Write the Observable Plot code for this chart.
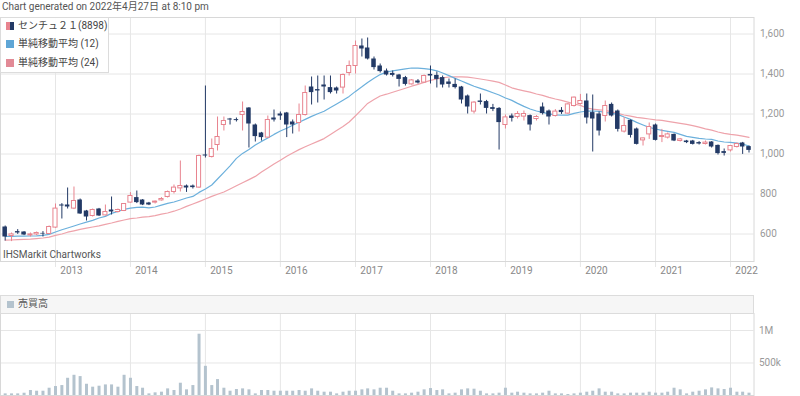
<!DOCTYPE html>
<html><head><meta charset="utf-8">
<script src="https://cdn.jsdelivr.net/npm/d3@7"></script>
<script src="https://cdn.jsdelivr.net/npm/@observablehq/plot@0.6"></script>
<style>
body{margin:0;background:#fff;font-family:Roboto,"Noto Sans CJK JP",sans-serif;}
#wrap{position:relative;width:800px;height:396px;overflow:hidden;background:#fff;}
#wrap svg{position:absolute;left:0;}
.t{position:absolute;font-size:10px;line-height:12px;white-space:nowrap;}
#title{left:2px;top:1px;color:#555;}
#legend{position:absolute;left:0;top:17px;width:109px;height:56px;background:rgba(255,255,255,0.95);border:1px solid #dcdcdc;box-sizing:border-box;z-index:2;}
.row{position:absolute;left:0;height:12px;font-size:10px;line-height:12px;color:#444;white-space:nowrap;}
.sw{position:absolute;left:5px;top:2px;width:8px;height:8px;}
.row span.lab{position:absolute;left:17px;top:0;}
#credit{left:3px;top:249px;color:#555;}
#volhead{position:absolute;left:0;top:295px;width:754px;height:19px;background:#f6f6f6;border:1px solid #dcdcdc;box-sizing:border-box;}
</style></head>
<body><div id="wrap">
<div id="title" class="t">Chart generated on 2022年4月27日 at 8:10 pm</div>
<div id="legend">
  <div class="row" style="top:2px"><span class="sw" style="width:4px;background:#e8848f"></span><span class="sw" style="left:9px;width:4px;background:#233a66"></span><span class="lab">センチュ２１(8898)</span></div>
  <div class="row" style="top:20px"><span class="sw" style="background:#5fa6d6"></span><span class="lab">単純移動平均 (12)</span></div>
  <div class="row" style="top:39px"><span class="sw" style="background:#e28a96"></span><span class="lab">単純移動平均 (24)</span></div>
</div>
<div id="credit" class="t">IHSMarkit Chartworks</div>
<div id="volhead"><span class="sw" style="top:5px;left:6px;width:7px;height:7px;background:#b4c3ce"></span><span class="t" style="left:17px;top:2px;color:#555">売買高</span></div>
</div>
<script>
// Monthly candles, May 2012 .. Apr 2022
const startMonth = "2012-05-01";
const open = [635,590,612,610,593,598,603,600,632,745, 745,727,770,715,690,725,693,720,710,715,
  757,782,770,755,757,768,785,810,828,840, 840,832,995,985,1045,1145,1175,1172,1195,1230,
  1145,1105,1082,1180,1200,1205,1160,1155,1195,1335, 1322,1345,1332,1330,1332,1405,1440,1540,1530,1475,
  1440,1415,1403,1395,1382,1348,1365,1357,1398,1393, 1382,1360,1348,1335,1290,1212,1265,1262,1232,1228,
  1145,1190,1185,1187,1192,1175,1235,1215,1190,1218, 1202,1240,1250,1265,1207,1200,1190,1248,1215,1112,
  1168,1125,1068,1098,1145,1085,1082,1098,1065,1065, 1065,1057,1050,1060,1043,1012,1018,1035,1055,1037];
const high = [640,605,622,612,605,610,612,640,750,752, 830,835,775,718,725,728,745,785,725,752,
  807,815,772,758,765,782,815,845,965,845, 845,995,1340,1075,1185,1185,1178,1180,1260,1232,
  1150,1108,1190,1220,1210,1208,1170,1250,1340,1385, 1390,1390,1390,1335,1400,1465,1565,1575,1580,1485,
  1450,1425,1415,1398,1388,1372,1372,1395,1440,1410, 1390,1375,1375,1338,1295,1262,1300,1268,1248,1232,
  1195,1200,1212,1215,1195,1192,1255,1220,1222,1232, 1252,1285,1298,1300,1295,1210,1265,1255,1220,1182,
  1170,1130,1080,1155,1150,1123,1105,1100,1078,1068, 1068,1062,1065,1062,1045,1025,1042,1055,1058,1040];
const low = [565,562,598,592,585,592,585,598,628,675, 725,722,698,665,685,688,690,695,705,712,
  755,752,742,742,750,765,780,800,810,808, 825,828,980,980,1015,1115,1145,1160,1115,1030,
  1060,1065,1078,1160,1168,1082,1100,1110,1190,1245, 1255,1270,1300,1300,1300,1390,1400,1485,1470,1420,
  1405,1390,1385,1335,1340,1345,1350,1355,1350,1330, 1330,1330,1325,1250,1200,1200,1245,1200,1212,1020,
  1125,1160,1175,1165,1115,1165,1195,1145,1185,1198, 1198,1235,1245,1150,1010,1090,1160,1185,1110,1105,
  1080,1045,1040,1073,1065,1057,1075,1062,1060,1052, 1045,1045,1045,1030,995,990,1010,1030,998,1005];
const close = [585,598,605,595,598,605,600,635,727,740, 735,765,700,685,720,690,710,710,720,750,
  790,757,745,745,762,775,810,832,840,830, 832,990,990,1025,1085,1165,1170,1167,1210,1150,
  1087,1082,1170,1170,1190,1145,1145,1195,1305,1307, 1315,1335,1307,1315,1395,1440,1540,1525,1475,1432,
  1412,1395,1393,1373,1348,1368,1355,1390,1390,1373, 1345,1348,1332,1270,1235,1257,1258,1228,1223,1157,
  1183,1178,1200,1200,1145,1185,1202,1185,1212,1207, 1248,1282,1265,1180,1175,1115,1240,1190,1123,1140,
  1093,1048,1078,1135,1068,1090,1098,1065,1073,1057, 1048,1050,1057,1035,1002,1003,1040,1050,1035,1018];
const sma12 = [588,588,589,589,590,591,593,598,610,621, 630,640,650,659,668,680,688,703,713,723,
  729,733,734,731,735,744,753,760,770,780, 788,808,825,845,875,908,941,978,1003,1023,
  1045,1063,1080,1098,1115,1129,1144,1159,1173,1188, 1201,1214,1232,1250,1269,1288,1313,1336,1358,1379,
  1397,1410,1416,1421,1426,1430,1429,1427,1423,1416, 1405,1392,1378,1365,1352,1339,1328,1318,1306,1295,
  1280,1268,1253,1238,1225,1215,1208,1201,1196,1194, 1194,1203,1210,1214,1215,1213,1208,1203,1198,1185,
  1173,1158,1145,1133,1125,1118,1113,1108,1098,1088, 1083,1078,1075,1073,1065,1060,1058,1054,1049,1040];
const sma24 = [569,570,572,573,574,577,580,584,593,600, 609,616,623,629,635,641,648,655,663,670,
  677,680,684,687,692,699,705,714,725,738, 750,762,775,788,799,810,825,841,856,872,
  888,910,930,950,969,989,1005,1022,1036,1050, 1063,1077,1097,1117,1137,1160,1191,1223,1253,1272,
  1290,1299,1309,1319,1329,1339,1348,1358,1368,1375, 1381,1385,1386,1386,1384,1380,1375,1370,1364,1358,
  1345,1331,1323,1316,1309,1300,1293,1283,1275,1268, 1259,1250,1243,1230,1224,1221,1218,1211,1203,1195,
  1189,1183,1179,1175,1171,1168,1163,1158,1153,1148, 1142,1134,1126,1119,1110,1103,1098,1094,1089,1083];
const volume = [25000,25000,25000,35000,77000,66000,66000,112000,138000,153000,
  265000,311000,291000,173000,128000,143000,163000,163000,128000,311000,
  265000,138000,112000,25000,41000,51000,102000,77000,189000,87000,
  153000,943000,449000,153000,245000,112000,66000,92000,102000,87000,
  25000,77000,77000,66000,66000,66000,66000,77000,66000,102000,
  66000,51000,51000,25000,51000,66000,66000,87000,102000,87000,
  112000,112000,66000,25000,25000,36000,51000,87000,107000,77000,
  87000,25000,36000,87000,102000,97000,66000,25000,25000,36000,
  112000,36000,51000,36000,25000,25000,36000,66000,25000,25000,
  15000,25000,36000,51000,66000,102000,51000,51000,25000,25000,
  36000,36000,36000,51000,36000,36000,51000,112000,87000,25000,
  51000,66000,87000,117000,102000,92000,112000,51000,51000,36000];
const priceTicks = [600, 800, 1000, 1200, 1400, 1600];
const volumeTicks = [500000, 1000000];
const yearTicks = ["2013","2014","2015","2016","2017","2018","2019","2020","2021","2022"].map(y => new Date(y + "-01-01"));

const NAVY = "#233a66", PINK = "#e8848f", BLUE_MA = "#6cb0dc", PINK_MA = "#eea3ab";
const GRID = "#e6e6e6", FRAME = "#d8d8d8", VOL = "#b4c3ce";

const months = d3.utcMonth.range(new Date(startMonth), d3.utcMonth.offset(new Date(startMonth), open.length));
const rows = months.map((date, i) => ({date, open: open[i], high: high[i], low: low[i], close: close[i],
  volume: volume[i], sma12: sma12[i], sma24: sma24[i]}));
const ups = rows.filter(d => d.close >= d.open);
const downs = rows.filter(d => d.close < d.open);
const xDomain = [new Date("2012-04-08T05:00Z"), new Date("2022-04-25T07:00Z")];
const style = {fontFamily: "Roboto, 'Noto Sans CJK JP', sans-serif", fontSize: "10px", background: "transparent", overflow: "visible"};

const price = Plot.plot({
  width: 800, height: 264, marginTop: 1, marginBottom: 19, marginLeft: 0, marginRight: 46.5,
  style,
  x: {type: "utc", domain: xDomain, label: null},
  y: {domain: [462.5, 1682.5], label: null},
  marks: [
    Plot.gridY(priceTicks, {stroke: GRID, strokeOpacity: 1}),
    Plot.gridX(yearTicks, {stroke: GRID, strokeOpacity: 1, insetBottom: -6}),
    Plot.frame({stroke: FRAME}),
    Plot.axisY(priceTicks, {anchor: "right", tickSize: 0, tickPadding: 6, tickFormat: d3.format(","), fill: "#999", label: null}),
    Plot.axisX(yearTicks, {anchor: "bottom", tickSize: 0, tickPadding: 5, tickFormat: d3.utcFormat("%Y"), dx: 16, fill: "#888", label: null}),
    Plot.line(rows, {x: "date", y: "sma24", stroke: PINK_MA, strokeWidth: 1.2}),
    Plot.line(rows, {x: "date", y: "sma12", stroke: BLUE_MA, strokeWidth: 1.2}),
    Plot.ruleX(downs, {x: "date", y1: "low", y2: "high", stroke: NAVY}),
    Plot.ruleX(ups, {x: "date", y1: "low", y2: "high", stroke: PINK}),
    Plot.rect(downs, {x1: d => d3.utcDay.offset(d.date, -11), x2: d => d3.utcDay.offset(d.date, 11), y1: "open", y2: "close", fill: NAVY}),
    Plot.rect(ups, {x1: d => d3.utcDay.offset(d.date, -10), x2: d => d3.utcDay.offset(d.date, 10), y1: "open", y2: "close", fill: "white", stroke: PINK, strokeWidth: 1})
  ]
});
price.style.top = "16px";

const vol = Plot.plot({
  width: 800, height: 83, marginTop: 0, marginBottom: 1, marginLeft: 0, marginRight: 46.5,
  style,
  x: {type: "utc", domain: xDomain, axis: null},
  y: {domain: [0, 1261500], label: null},
  marks: [
    Plot.gridY(volumeTicks, {stroke: GRID, strokeOpacity: 1}),
    Plot.gridX(yearTicks, {stroke: GRID, strokeOpacity: 1}),
    Plot.frame({stroke: FRAME}),
    Plot.axisY(volumeTicks, {anchor: "right", tickSize: 0, tickPadding: 5, tickFormat: d3.format("~s"), fill: "#999", label: null}),
    Plot.ruleX(rows, {x: "date", y: "volume", stroke: VOL, strokeWidth: 3})
  ]
});
vol.style.top = "313px";

const wrap = document.getElementById("wrap");
wrap.insertBefore(price, wrap.firstChild);
wrap.insertBefore(vol, wrap.firstChild);
</script>
</body></html>
